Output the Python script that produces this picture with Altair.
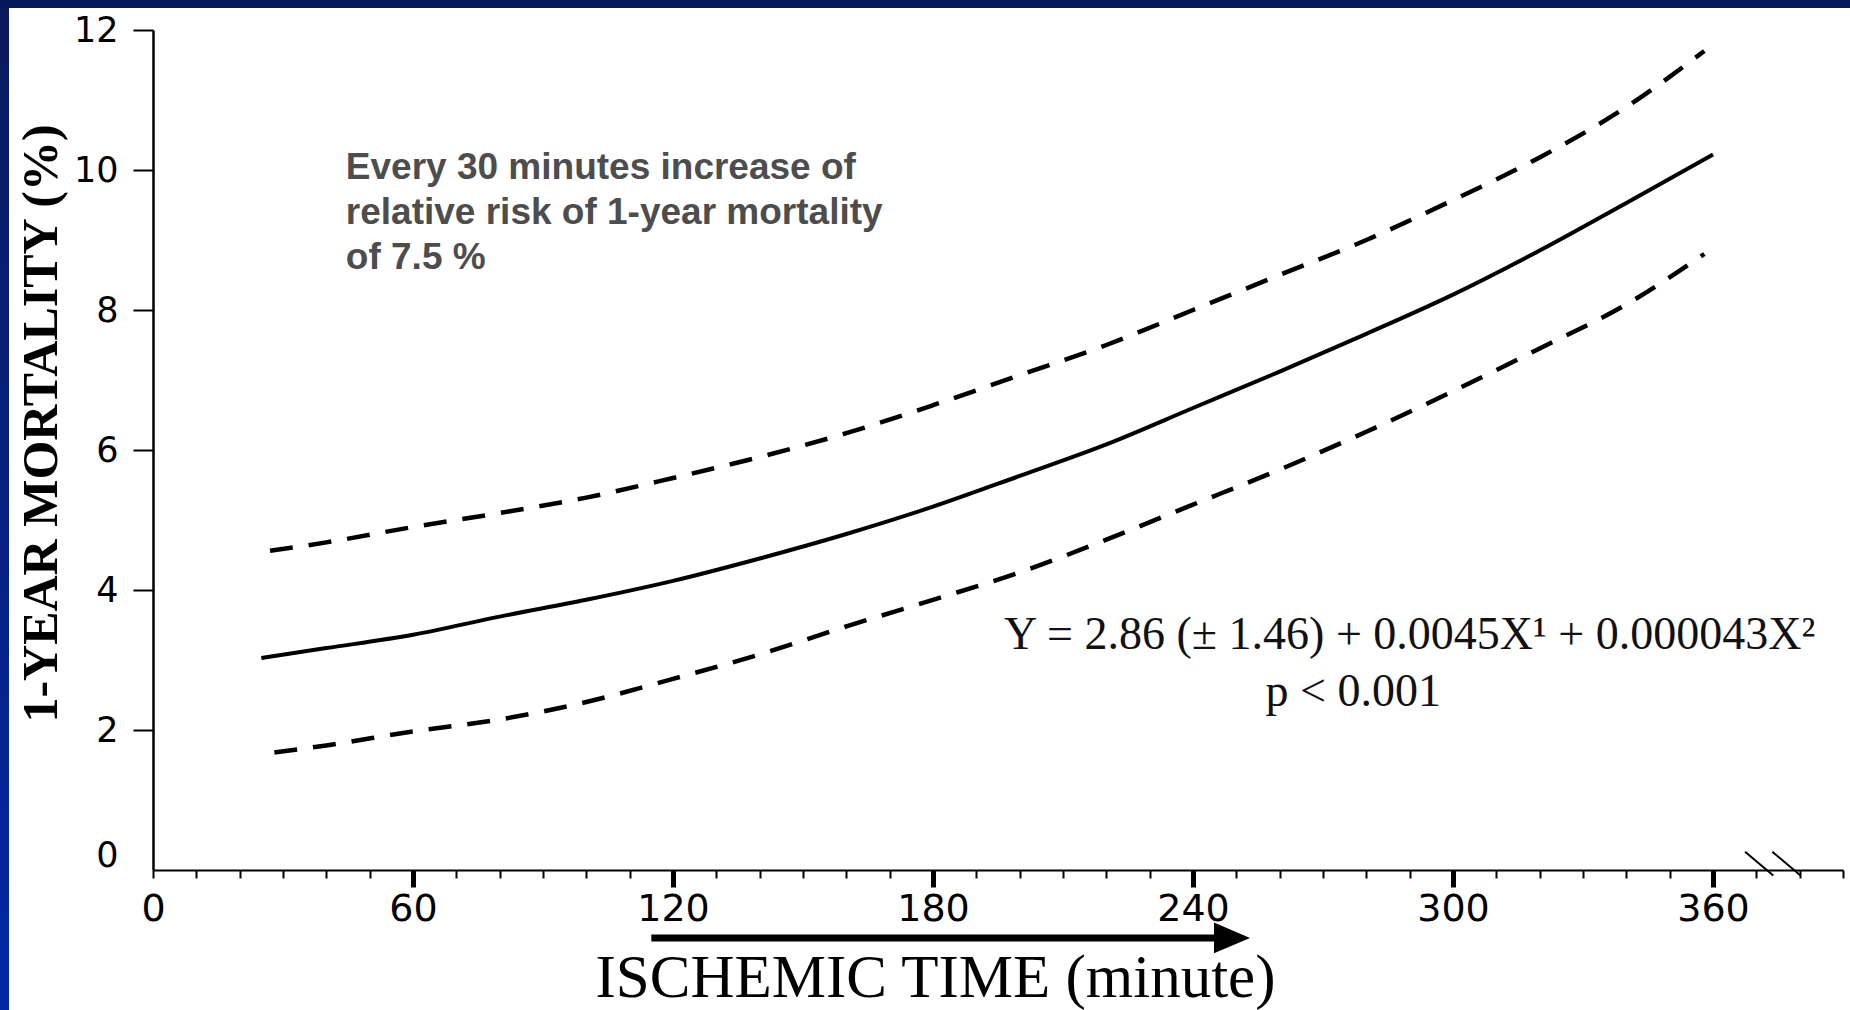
import altair as alt
import pandas as pd

# ---- data ----
minutes_center = [25, 40, 60, 80, 100, 120, 140, 160, 180, 200, 220, 240, 260, 280, 300, 320, 340, 360]
mortality_center = [3.03, 3.17, 3.36, 3.62, 3.86, 4.13, 4.45, 4.80, 5.19, 5.63, 6.08, 6.60, 7.12, 7.66, 8.22, 8.85, 9.53, 10.22]

minutes_upper = [27, 40, 60, 80, 100, 120, 140, 160, 180, 200, 220, 240, 260, 280, 300, 320, 340, 358]
mortality_upper = [4.56, 4.68, 4.90, 5.10, 5.32, 5.60, 5.90, 6.24, 6.64, 7.07, 7.50, 8.00, 8.50, 9.00, 9.57, 10.18, 10.90, 11.70]

minutes_lower = [28, 40, 60, 80, 100, 120, 140, 160, 180, 200, 220, 240, 260, 280, 300, 320, 340, 358]
mortality_lower = [1.68, 1.78, 1.98, 2.15, 2.40, 2.73, 3.08, 3.48, 3.86, 4.25, 4.72, 5.22, 5.72, 6.26, 6.84, 7.45, 8.08, 8.80]

x_ticks_major = [0, 60, 120, 180, 240, 300, 360]
x_ticks_minor = [0, 10, 20, 30, 40, 50, 60, 70, 80, 90, 100, 110, 120, 130, 140, 150, 160, 170, 180,
                 190, 200, 210, 220, 230, 240, 250, 260, 270, 280, 290, 300, 310, 320, 330, 340, 350,
                 360, 370, 380, 390]
y_ticks = [0, 2, 4, 6, 8, 10, 12]

x_title = "ISCHEMIC TIME (minute)"
y_title = "1-YEAR MORTALITY (%)"
note_text = "Every 30 minutes increase of\nrelative risk of 1-year mortality\nof 7.5 %"
equation_text = "Y = 2.86 (± 1.46) + 0.0045X¹ + 0.000043X²"
p_text = "p < 0.001"

# axis-break marks and arrow (data coordinates)
break_x1 = [367.4, 373.7]
break_x2 = [373.9, 380.2]
break_y1 = [0.26, 0.26]
break_y2 = [-0.08, -0.08]

W, H = 1690, 840
xs = alt.Scale(domain=[0, 390], nice=False, zero=False)
ys = alt.Scale(domain=[0, 12], nice=False, zero=False)

df_c = pd.DataFrame({"minute": minutes_center, "mortality": mortality_center})
df_u = pd.DataFrame({"minute": minutes_upper, "mortality": mortality_upper})
df_l = pd.DataFrame({"minute": minutes_lower, "mortality": mortality_lower})
df_b = pd.DataFrame({"x1": break_x1, "x2": break_x2, "y1": break_y1, "y2": break_y2})
df_one = pd.DataFrame({"a": [0]})

major_axis = alt.Axis(
    values=x_ticks_major, orient="bottom", title=x_title,
    titleFont="Liberation Serif", titleFontSize=61, titleFontWeight="normal", titleColor="black",
    titleX=782, titleY=108, titleAlign="center", titleBaseline="middle",
    labelFont="DejaVu Sans", labelFontSize=38, labelColor="black", labelPadding=3,
    labelFlush=False, labelOverlap=False,
    tickSize=17, tickWidth=5, tickColor="black",
    tickOpacity={"condition": {"test": "datum.value === 0", "value": 0}, "value": 1},
    domain=True, domainColor="black", domainWidth=2, grid=False,
)
minor_axis = alt.Axis(
    values=x_ticks_minor, orient="bottom", title=None, labels=False, domain=False,
    tickSize=8, tickWidth=2, tickColor="black", grid=False,
)
y_axis = alt.Axis(
    values=y_ticks, orient="left", title=y_title,
    titleFont="Liberation Serif", titleFontWeight="bold", titleFontSize=50, titleColor="black",
    titleX=-112, titleY=393, titleAngle=270, titleAlign="center", titleBaseline="middle",
    labelFont="DejaVu Sans", labelFontSize=35, labelColor="black", labelPadding=15,
    labelOffset={"condition": {"test": "datum.value === 0", "value": -15}, "value": 0},
    tickSize=20, tickWidth=2, tickColor="black",
    tickOpacity={"condition": {"test": "datum.value === 0", "value": 0}, "value": 1},
    domain=True, domainColor="black", domainWidth=2.5, grid=False,
)

# decorative slide frame
frame_left = alt.Chart(df_one).mark_rect(
    fill=alt.Gradient(gradient="linear",
                      stops=[alt.GradientStop(color="#0a1a5c", offset=0),
                             alt.GradientStop(color="#0228a4", offset=1)],
                      x1=0, x2=0, y1=0, y2=1)
).encode(x=alt.value(-153), x2=alt.value(-144), y=alt.value(-30), y2=alt.value(980))
frame_top = alt.Chart(df_one).mark_rect(color="#06185a").encode(
    x=alt.value(-153), x2=alt.value(W + 7), y=alt.value(-30), y2=alt.value(-22))

center = alt.Chart(df_c).mark_line(color="black", strokeWidth=4, interpolate="monotone").encode(
    x=alt.X("minute:Q", scale=xs, axis=major_axis),
    y=alt.Y("mortality:Q", scale=ys, axis=y_axis),
)
upper = alt.Chart(df_u).mark_line(color="black", strokeWidth=4.5, strokeDash=[23, 16],
                                  interpolate="monotone").encode(
    x=alt.X("minute:Q", scale=xs, axis=None),
    y=alt.Y("mortality:Q", scale=ys, axis=None),
)
lower = alt.Chart(df_l).mark_line(color="black", strokeWidth=4.5, strokeDash=[23, 16],
                                  interpolate="monotone").encode(
    x=alt.X("minute:Q", scale=xs, axis=None),
    y=alt.Y("mortality:Q", scale=ys, axis=None),
)
breaks = alt.Chart(df_b).mark_rule(color="black", strokeWidth=2).encode(
    x=alt.X("x1:Q", scale=xs, axis=minor_axis),
    x2="x2:Q",
    y=alt.Y("y1:Q", scale=ys, axis=None),
    y2="y2:Q",
)

arrow_df = pd.DataFrame({"xa": [115.0], "xb": [246.0], "ya": [-0.97], "xh": [249.0]})
arrow_shaft = alt.Chart(arrow_df).mark_rule(color="black", strokeWidth=7, strokeCap="butt").encode(
    x=alt.X("xa:Q", scale=xs, axis=None), x2="xb:Q",
    y=alt.Y("ya:Q", scale=ys, axis=None),
)
arrow_head = alt.Chart(arrow_df).mark_point(
    shape="M -1 -0.85 L 1 0 L -1 0.85 Z", size=1300, filled=True, color="black", opacity=1
).encode(
    x=alt.X("xh:Q", scale=xs, axis=None),
    y=alt.Y("ya:Q", scale=ys, axis=None),
)

note_df = pd.DataFrame({"x": [44.5], "y": [10.28], "t": [note_text]})
note = alt.Chart(note_df).mark_text(
    align="left", baseline="top", font="Liberation Sans", fontWeight="bold", fontSize=37,
    lineHeight=45, color="#4d4d4d", lineBreak="\n"
).encode(x=alt.X("x:Q", scale=xs, axis=None), y=alt.Y("y:Q", scale=ys, axis=None), text="t:N")

eq_df = pd.DataFrame({"x": [290.0, 277.0], "y": [3.36, 2.54], "t": [equation_text, p_text]})
eq = alt.Chart(eq_df).mark_text(
    align="center", baseline="middle", font="Liberation Serif", fontSize=46, color="#111111"
).encode(x=alt.X("x:Q", scale=xs, axis=None), y=alt.Y("y:Q", scale=ys, axis=None), text="t:N")

chart = alt.layer(
    frame_left, frame_top, center, upper, lower, breaks, arrow_shaft, arrow_head, note, eq
).resolve_axis(x="independent", y="independent").properties(
    width=W, height=H,
    padding={"left": 153, "top": 30, "right": 7, "bottom": 140},
    autosize=alt.AutoSizeParams(type="none"),
    background="white",
).configure_view(stroke=None)

chart.save("out.html", embed_options={"renderer": "svg", "actions": False})
